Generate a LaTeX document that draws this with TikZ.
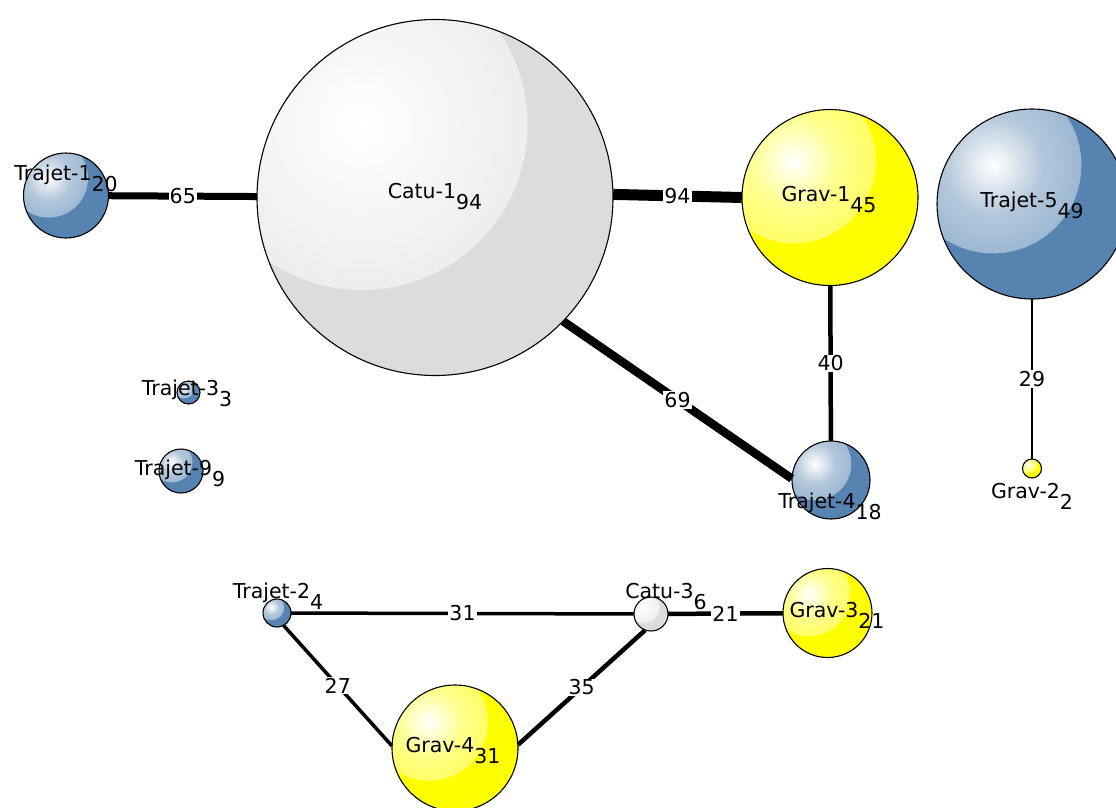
\documentclass[tikz,border=0pt]{standalone}
\usepackage{fontspec}
\setmainfont{DejaVu Sans}
\definecolor{bblue}{RGB}{86,131,176}
\definecolor{ggrey}{RGB}{220,220,220}
\definecolor{yyellow}{RGB}{255,255,0}
\pgfdeclareradialshading{bluehl}{\pgfpointorigin}{color(0bp)=(white); color(14bp)=(bblue!45!white); color(50bp)=(bblue!86!white)}
\pgfdeclareradialshading{greyhl}{\pgfpointorigin}{color(0bp)=(white); color(22bp)=(ggrey!45!white); color(50bp)=(ggrey!88!white)}
\pgfdeclareradialshading{yellowhl}{\pgfpointorigin}{color(0bp)=(white); color(14bp)=(yyellow!45!white); color(50bp)=(yyellow!93!white)}
\newcommand{\ballnode}[6]{% name, x, y, r, fill colour, highlight shading
  \node[circle, draw=none, inner sep=0pt, minimum size={2*#4pt}, fill=#5] (#1) at (#2,#3) {};
  \begin{scope}
    \clip (#2,#3) circle[radius=#4];
    \shade[shading=#6] ({#2-0.41*#4},{#3-0.41*#4}) circle[radius={0.93*#4}];
  \end{scope}
  \draw[ballline] (#2,#3) circle[radius=#4];
}
\tikzset{
  ballline/.style={line width=1.1pt, black},
  namelab/.style={anchor=base, inner sep=0pt, font=\fontsize{20.5}{24}\selectfont},
  edgelab/.style={fill=white, inner sep=1pt, font=\fontsize{20.5}{24}\selectfont},
  conn/.style={draw=black}
}
\newcommand{\sublab}[1]{\raisebox{-11pt}{#1}}
\begin{document}
\begin{tikzpicture}[x=1pt,y=-1pt]
\useasboundingbox (0,0) rectangle (1116,808);
\begin{scope}
\clip (0,0) rectangle (1116,808);
% balls
\ballnode{T1}{66}{195.5}{42.5}{bblue}{bluehl}
\ballnode{C1}{435}{197.5}{178}{ggrey}{greyhl}
\ballnode{G1}{830}{197.5}{88}{yyellow}{yellowhl}
\ballnode{T5}{1032}{204}{95}{bblue}{bluehl}
\ballnode{T3}{188.5}{392.5}{11.5}{bblue}{bluehl}
\ballnode{T9}{181}{471}{22}{bblue}{bluehl}
\ballnode{T4}{831}{480}{39}{bblue}{bluehl}
\ballnode{G2}{1032}{468.5}{9.5}{yyellow}{yellowhl}
\ballnode{T2}{277}{613}{14}{bblue}{bluehl}
\ballnode{C3}{651}{614}{17}{ggrey}{greyhl}
\ballnode{G3}{827.5}{613}{44.5}{yyellow}{yellowhl}
\ballnode{G4}{455}{748}{63}{yyellow}{yellowhl}
% connectors
\draw[conn, line width=7pt] (T1) -- node[edgelab] (e65) {65} (C1);
\draw[conn, line width=11pt] (C1.1) -- node[edgelab] (e94) {94} (G1.180);
\draw[conn, line width=8.5pt] (C1.-44) -- node[edgelab] (e69) {69} (T4.178);
\draw[conn, line width=4.5pt] (G1) -- node[edgelab] (e40) {40} (T4);
\draw[conn, line width=2.5pt] (T5) -- node[edgelab] (e29) {29} (G2);
\draw[conn, line width=3.5pt] (T2) -- node[edgelab] (e31) {31} (C3);
\draw[conn, line width=3.5pt] (T2.-62) -- node[edgelab] (e27) {27} (G4.178);
\draw[conn, line width=4.5pt] (C3.-110) -- node[edgelab] (e35) {35} (G4.3);
\draw[conn, line width=4.5pt] (C3) -- node[edgelab] (e21) {21} (G3);
% name labels
\node[namelab] (lT1) at (66,180) {Trajet-1\sublab{20}};
\node[namelab] (lC1) at (435,198) {Catu-1\sublab{94}};
\node[namelab] (lG1) at (829,201) {Grav-1\sublab{45}};
\node[namelab] (lT5) at (1032,207) {Trajet-5\sublab{49}};
\node[namelab] (lT3) at (187,395) {Trajet-3\sublab{3}};
\node[namelab] (lT9) at (180,475) {Trajet-9\sublab{9}};
\node[namelab] (lT4) at (830,508) {Trajet-4\sublab{18}};
\node[namelab] (lG2) at (1032,498) {Grav-2\sublab{2}};
\node[namelab] (lT2) at (278,598) {Trajet-2\sublab{4}};
\node[namelab] (lC3) at (666,598) {Catu-3\sublab{6}};
\node[namelab] (lG3) at (837,617) {Grav-3\sublab{21}};
\node[namelab] (lG4) at (453,752) {Grav-4\sublab{31}};
\end{scope}
\end{tikzpicture}
\end{document}
